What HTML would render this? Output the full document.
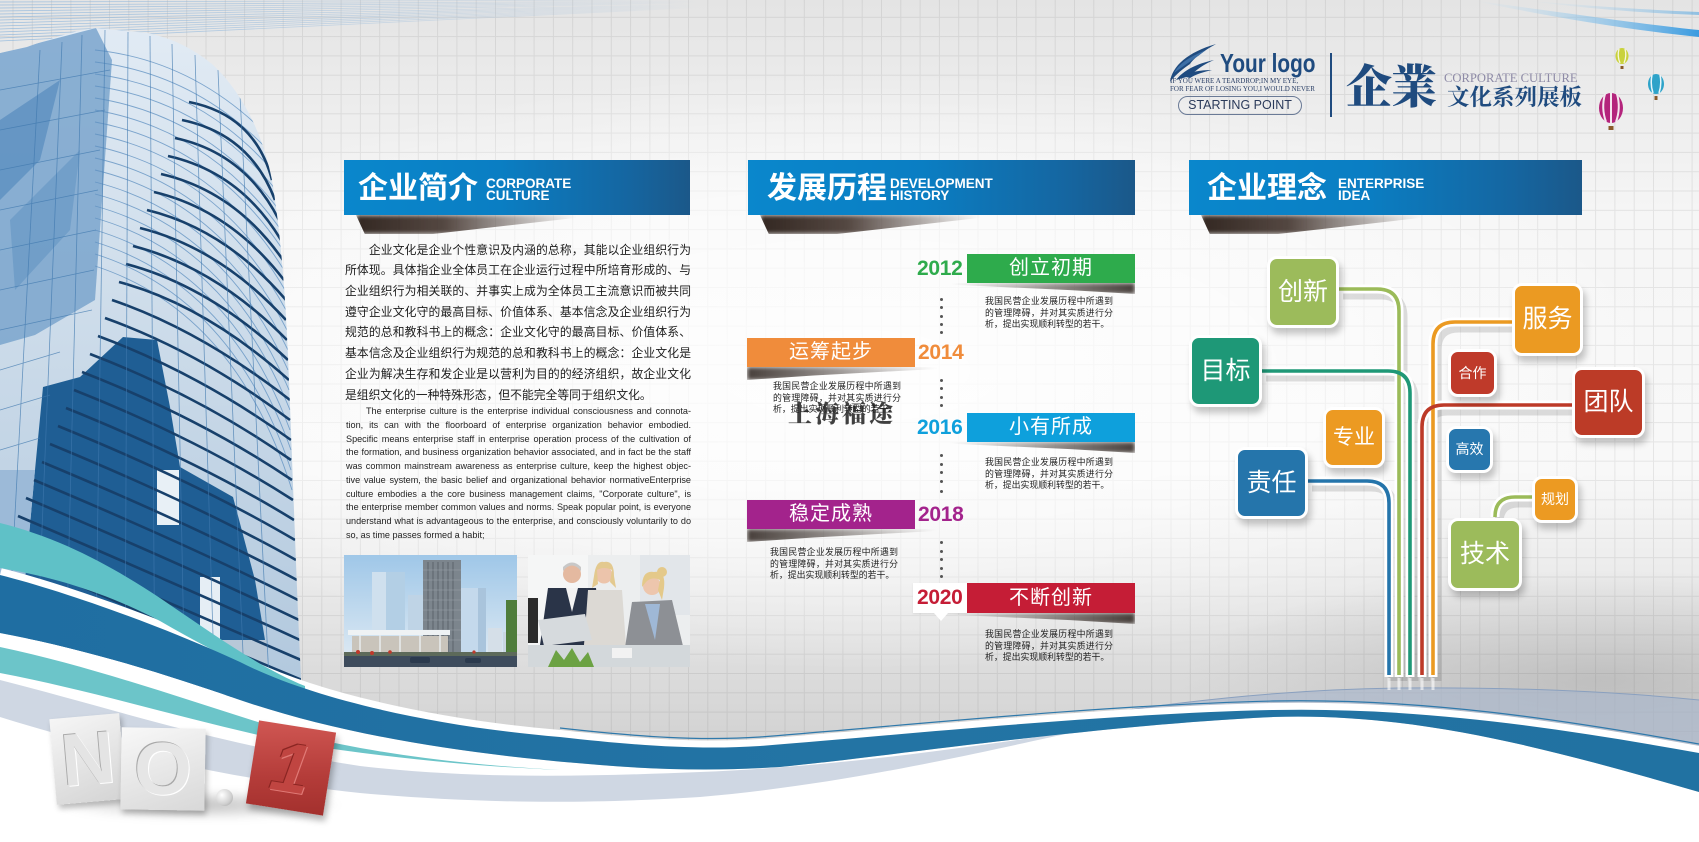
<!DOCTYPE html>
<html><head><meta charset="utf-8">
<style>
*{margin:0;padding:0;box-sizing:border-box}
html,body{width:1699px;height:842px;overflow:hidden;background:#fff}
#c{position:relative;width:1699px;height:842px;overflow:hidden;font-family:"Liberation Sans","Noto Sans CJK SC",sans-serif}
.a{position:absolute}
.bar{position:absolute;top:160px;height:55px;background:linear-gradient(90deg,#0a87cc 0%,#0a7ec3 45%,#1566a1 82%,#1b5889 100%)}
.bar .cn{position:absolute;left:14px;top:10px;font-size:30px;font-weight:bold;color:#fff;line-height:38px;white-space:nowrap}
.bar .en{position:absolute;top:18px;font-size:13.5px;font-weight:bold;color:#fff;line-height:12px;white-space:nowrap}
.hsh{position:absolute;top:215px;width:220px;height:19px;background:linear-gradient(90deg,rgba(40,28,22,.95) 0%,rgba(55,40,33,.85) 40%,rgba(90,80,75,0) 100%);clip-path:polygon(0 0,100% 0,100% 15%,35% 100%,4% 100%);filter:blur(2.5px)}
.cnp div{height:20.71px;line-height:20.71px;font-size:11.8px;color:#1c1c1c;text-align:justify;text-align-last:justify;overflow:hidden}
.enp div{height:13.78px;line-height:13.78px;font-size:9.1px;color:#222;text-align:justify;text-align-last:justify;overflow:hidden}
.tb{position:absolute;height:29px;color:#fff;font-size:20px;line-height:29px;text-align:center;letter-spacing:1px}
.yr{position:absolute;font-size:21px;font-weight:bold;line-height:24px;letter-spacing:-0.3px}
.ds{position:absolute;width:128px}
.ds div{height:11.7px;line-height:11.7px;font-size:8.9px;color:#222;text-align:justify;text-align-last:justify;overflow:hidden}
.shr{position:absolute;width:185px;height:11px;background:linear-gradient(90deg,rgba(50,40,35,0) 0%,rgba(50,40,35,.55) 60%,rgba(40,30,25,.85) 100%);clip-path:polygon(0 0,100% 0,100% 100%,65% 65%,0 15%);filter:blur(2px)}
.shl{position:absolute;width:190px;height:13px;background:linear-gradient(90deg,rgba(40,30,25,.85) 0%,rgba(50,40,35,.55) 40%,rgba(50,40,35,0) 100%);clip-path:polygon(0 0,100% 0,100% 15%,35% 65%,0 100%);filter:blur(2px)}
.dot{position:absolute;left:940px;width:3px;height:3px;border-radius:50%;background:#555}
.bx{position:absolute;border:3px solid #fff;border-radius:10px;color:#fff;text-align:center;box-shadow:3px 6px 7px rgba(0,0,0,.22);white-space:nowrap}
</style></head><body><div id="c">

<!-- background -->
<div class="a" style="left:0;top:0;width:1699px;height:842px;background:linear-gradient(180deg,#e4e4e4 0px,#ededed 110px,#f6f6f6 220px,#f8f8f8 470px,#ececec 570px,#dcdcdc 670px,#d0d0d0 760px)"></div>
<div class="a" style="left:0;top:0;width:1699px;height:842px;background:radial-gradient(ellipse 420px 110px at 1600px 680px,rgba(140,140,140,.35),rgba(140,140,140,0))"></div>
<svg class="a" style="left:0;top:0" width="1699" height="842">
<defs><pattern id="gr" x="12.5" y="16.8" width="19.3" height="19.3" patternUnits="userSpaceOnUse"><path d="M0,0.5 H19.3 M0.5,0 V19.3" stroke="rgba(90,90,90,0.12)" stroke-width="1" fill="none"/></pattern></defs>
<rect width="1699" height="842" fill="url(#gr)"/>
</svg>
<div class="a" style="left:0;top:0;width:1699px;height:842px;background:radial-gradient(ellipse 820px 300px at 860px 370px,rgba(255,255,255,.9),rgba(255,255,255,.5) 60%,rgba(255,255,255,0) 100%)"></div>

<!-- main graphics -->
<svg class="a" style="left:0;top:0" width="1699" height="842" viewBox="0 0 1699 842">
<defs>
<clipPath id="bc"><path d="M0,53 L27,47 C55,37 78,30 96,28 L147,33 C172,38 192,48 212,64 C240,90 262,130 272,180 C281,235 286,300 289,380 C293,480 297,600 302,700 L0,700 Z"/></clipPath>
<linearGradient id="bg" x1="0" y1="0" x2="0" y2="1"><stop offset="0" stop-color="#e3ecf5"/><stop offset=".45" stop-color="#cddcea"/><stop offset="1" stop-color="#b0c7dd"/></linearGradient>
<linearGradient id="tl" x1="0" y1="0" x2="700" y2="0" gradientUnits="userSpaceOnUse"><stop offset="0" stop-color="#8ab4dc" stop-opacity=".8"/><stop offset="1" stop-color="#8ab4dc" stop-opacity="0"/></linearGradient>
<linearGradient id="bl" x1="0" y1="0" x2="1" y2="0"><stop offset="0" stop-color="#1f6ea2"/><stop offset=".5" stop-color="#2374a4"/><stop offset="1" stop-color="#2172a2"/></linearGradient>
<linearGradient id="tr" x1="0" y1="0" x2="1" y2="0"><stop offset="0" stop-color="#bfe0f5" stop-opacity="0"/><stop offset="1" stop-color="#3a9be0"/></linearGradient>
</defs>
<!-- top left faint lines -->
<g stroke="url(#tl)" stroke-width="0.8" fill="none">
<path d="M0,2 L700,0"/><path d="M0,5 L700,1"/><path d="M0,8 L700,1.5"/><path d="M0,11 L700,2"/><path d="M0,14 L700,2.5"/><path d="M0,17 L700,3"/><path d="M0,20 L700,4"/><path d="M0,23 L700,4.5"/><path d="M0,26 L700,5"/><path d="M0,29 L700,5.5"/><path d="M0,32 L700,6"/><path d="M0,35 L700,6.5"/><path d="M0,38 L700,7"/><path d="M0,41 L700,7.5"/>
</g>
<!-- top right streak -->
<path d="M1470,0 C1560,12 1640,24 1699,30 L1699,37 C1630,30 1550,17 1470,0 Z" fill="url(#tr)"/>
<path d="M1520,0 C1590,6 1650,10 1699,12 L1699,15 C1640,13 1580,8 1520,0 Z" fill="url(#tr)" opacity=".5"/>

<!-- gray-blue region right above band -->
<path d="M980,738 C1100,710 1250,690 1400,688 C1530,687 1630,693 1699,700 L1699,790 L980,790 Z" fill="#a9b7cc" opacity=".65"/>
<path d="M980,738 C1100,710 1250,690 1400,688 C1530,687 1630,693 1699,700" stroke="#8aa0bf" stroke-width="1" fill="none"/>

<!-- building -->
<g clip-path="url(#bc)">
<rect x="0" y="0" width="310" height="710" fill="url(#bg)"/>
<path d="M0,53 L96,28 L112,60 L95,300 L35,335 L0,345 Z" fill="#7aa5cc" opacity=".85"/>
<path d="M0,120 L60,80 L40,160 L0,200 Z" fill="#4f86ba" opacity=".6"/>
<path d="M10,220 L80,150 L70,230 L15,290 Z" fill="#5b8fc0" opacity=".5"/>
<g stroke="#5d8fc0" stroke-width="0.9" fill="none" opacity=".75">
<path d="M95,50 Q190,60 262,130"/><path d="M95,62 Q195,74 268,150"/><path d="M95,74 Q200,88 272,170"/><path d="M95,86 Q205,102 276,190"/><path d="M95,98 Q208,116 279,210"/><path d="M95,110 Q210,130 281,230"/><path d="M95,122 Q212,144 283,250"/><path d="M95,134 Q214,158 284,270"/><path d="M95,146 Q216,172 285,290"/><path d="M95,158 Q218,186 286,310"/><path d="M95,170 Q220,200 287,330"/><path d="M95,182 Q222,214 288,350"/><path d="M95,194 Q224,228 288,370"/><path d="M95,206 Q226,242 289,390"/><path d="M95,218 Q228,256 290,410"/><path d="M95,230 Q230,270 290,430"/><path d="M95,242 Q232,284 291,450"/><path d="M95,254 Q234,298 291,470"/><path d="M95,266 Q236,312 292,490"/>
</g>
<path d="M43,387 L80,377 L123,337 L157,340 L170,407 L180,467 L233,497 L255,580 L265,640 L230,700 L30,700 L25,580 L35,470 Z" fill="#1f5e94"/>
<path d="M0,470 L35,470 L25,580 L0,590 Z" fill="#9cbad8"/>
<rect x="157" y="470" width="22" height="55" fill="#e8f0f6"/>
<rect x="200" y="577" width="20" height="96" fill="#e6eef5"/>
<rect x="217" y="640" width="50" height="55" fill="#b8c8d8"/>
<g stroke="#17406b" stroke-width="2.6" fill="none">
<path d="M189,102 Q255,115 272,180"/><path d="M182,120 Q250,134 275,200"/><path d="M175,138 Q245,153 279,220"/><path d="M168,156 Q240,172 281,240"/><path d="M161,174 Q235,191 283,260"/><path d="M154,192 Q230,210 284,280"/><path d="M147,210 Q225,229 286,300"/><path d="M140,228 Q220,248 286,320"/><path d="M133,246 Q215,267 287,340"/><path d="M126,264 Q210,286 288,360"/><path d="M119,282 Q205,305 289,380"/>
<path d="M112,300 Q200,330 290,400"/><path d="M105,318 Q200,352 290,420"/><path d="M98,336 Q200,374 291,440"/><path d="M90,354 Q200,396 291,460"/><path d="M82,372 Q200,418 292,480"/><path d="M74,390 Q200,440 293,500"/><path d="M66,408 Q200,462 294,520"/><path d="M58,426 Q200,484 295,540"/><path d="M50,444 Q200,506 296,560"/><path d="M42,462 Q200,528 297,580"/><path d="M34,480 Q200,550 298,600"/><path d="M26,498 Q200,572 299,620"/><path d="M18,516 Q200,594 300,640"/><path d="M10,534 Q200,616 301,660"/><path d="M2,552 Q200,638 302,680"/>
</g>
<g stroke="#3f78ae" stroke-width="0.8" fill="none" opacity=".7">
<path d="M5,700 L40,50"/><path d="M35,700 L62,42"/><path d="M65,700 L82,35"/><path d="M95,700 L105,30"/><path d="M125,700 L128,32"/><path d="M155,700 L150,36"/><path d="M185,700 L172,44"/><path d="M215,700 L195,55"/><path d="M245,700 L218,70"/><path d="M270,700 L240,95"/>
<path d="M0,90 L110,70"/><path d="M0,130 L105,110"/><path d="M0,170 L100,150"/><path d="M0,210 L98,190"/><path d="M0,250 L96,230"/><path d="M0,290 L94,270"/><path d="M0,330 L92,310"/><path d="M0,370 L60,352"/><path d="M0,410 L50,395"/><path d="M0,450 L40,438"/>
</g>
</g>

<!-- white below lower edge -->
<path d="M0,633 C80,648 160,672 240,700 C340,734 460,754 600,765 C660,770 720,771 780,767 C900,755 1100,725 1273,717 C1420,712 1560,752 1699,792 L1699,842 L0,842 Z" fill="#fff"/>
<!-- gray-blue band -->
<path d="M0,680 C100,705 220,745 360,766 C480,780 600,776 700,772 C850,766 980,745 1080,731 C980,752 850,784 700,797 C560,806 450,801 360,793 C220,778 100,748 0,717 Z" fill="#cfd7e3"/>
<!-- teal below -->
<path d="M0,647 C100,668 200,705 300,735 C380,755 470,765 560,770 C470,766 390,758 300,744 C200,724 100,692 0,673 Z" fill="#6cc5c9"/>
<!-- white stroke above blue -->
<path d="M0,575 C60,590 160,625 240,662 C310,698 430,726 560,737 C640,746 700,750 760,746 C900,735 1100,714 1273,710 C1420,707 1560,728 1699,753" stroke="#fff" stroke-width="14" fill="none"/>
<!-- teal wedge -->
<path d="M0,523 C60,538 110,565 160,598 C210,632 260,668 305,686 L305,689 C260,675 210,650 160,621 C110,595 60,578 0,568 Z" fill="#5fc1c7"/>
<!-- blue band -->
<path d="M0,575 C60,590 160,625 240,662 C310,698 430,726 560,737 C640,746 700,750 760,746 C900,735 1100,714 1273,710 C1420,707 1560,728 1699,753 L1699,792 C1560,752 1420,712 1273,717 C1100,725 900,755 780,767 C720,771 660,770 600,765 C460,754 340,734 240,700 C160,672 80,648 0,633 Z" fill="url(#bl)"/>
<path d="M560,728 C640,737 700,741 760,737 C900,726 1100,705 1273,701 C1420,698 1560,719 1699,744" stroke="#2f79ab" stroke-width="1.2" fill="none"/>

<!-- idea connectors -->
<g fill="none" stroke-linecap="butt">
<g stroke="rgba(0,0,0,.12)" stroke-width="9" transform="translate(4,6)">
<path d="M1339,289 H1377 Q1399,289 1399,311 V675"/><path d="M1262,371 H1388 Q1410,371 1410,393 V675"/><path d="M1512,322 H1455 Q1433,322 1433,344 V675"/><path d="M1572,405 H1444 Q1422,405 1422,427 V675"/><path d="M1308,481 H1367 Q1389,481 1389,503 V675"/><path d="M1532,497 H1515 Q1495,497 1495,517"/>
</g>
<g stroke="#fff" stroke-width="9">
<path d="M1339,289 H1377 Q1399,289 1399,311 V677"/><path d="M1262,371 H1388 Q1410,371 1410,393 V677"/><path d="M1512,322 H1455 Q1433,322 1433,344 V677"/><path d="M1572,405 H1444 Q1422,405 1422,427 V677"/><path d="M1308,481 H1367 Q1389,481 1389,503 V677"/><path d="M1532,497 H1515 Q1495,497 1495,517"/>
</g>
<path d="M1339,289 H1377 Q1399,289 1399,311 V675" stroke="#9bbb59" stroke-width="3.6"/>
<path d="M1262,371 H1388 Q1410,371 1410,393 V675" stroke="#1f9877" stroke-width="3.6"/>
<path d="M1512,322 H1455 Q1433,322 1433,344 V675" stroke="#eb9a22" stroke-width="3.6"/>
<path d="M1572,405 H1444 Q1422,405 1422,427 V675" stroke="#bd3a28" stroke-width="3.6"/>
<path d="M1308,481 H1367 Q1389,481 1389,503 V675" stroke="#2575ab" stroke-width="3.6"/>
<path d="M1532,497 H1515 Q1495,497 1495,517" stroke="#9bbb59" stroke-width="3.6"/>
<g stroke="rgba(255,255,255,.6)" stroke-width="3"><path d="M1389,678 V690"/><path d="M1399,678 V690"/><path d="M1410,678 V690"/><path d="M1422,678 V690"/><path d="M1433,678 V690"/></g>
</g>

<!-- balloons -->
<g>
<ellipse cx="1622" cy="56" rx="6.5" ry="8" fill="#c9d23c"/><path d="M1619,49 Q1617,56 1620,63 M1625,49 Q1627,56 1624,63" stroke="#f7f7e0" stroke-width="1.3" fill="none"/><rect x="1620.5" y="66" width="3" height="3" fill="#8a5a2a"/>
<ellipse cx="1656" cy="84" rx="8" ry="10" fill="#2ea3c9"/><path d="M1652,75 Q1650,84 1653,93 M1660,75 Q1662,84 1659,93" stroke="#e8f6fb" stroke-width="1.5" fill="none"/><rect x="1654.5" y="96" width="3" height="4" fill="#8a5a2a"/>
<ellipse cx="1611" cy="108" rx="12" ry="15" fill="#b4247c"/><path d="M1605,94 Q1601,108 1606,122 M1617,94 Q1621,108 1616,122 M1611,93 L1611,123" stroke="#f5e6ef" stroke-width="2" fill="none"/><rect x="1608.5" y="126" width="5" height="4" fill="#8a5a2a"/>
</g>

<!-- logo wing -->
<g fill="#1f4b7f">
<path d="M1170,82 C1172,66 1188,52 1216,44 C1202,52 1194,58 1190,64 C1184,68 1176,74 1170,82 Z"/>
<path d="M1176,80 C1184,70 1196,64 1214,60 C1204,64 1196,70 1190,76 Z"/>
<path d="M1182,76 C1190,72 1200,70 1212,70 C1204,72 1196,74 1190,78 Z"/>
<path d="M1174,73 C1180,62 1192,56 1206,50 C1196,58 1186,64 1174,73 Z" fill="#3d6fa6"/>
</g>
</svg>

<!-- logo text -->
<div class="a" style="left:1220px;top:48px;font-family:'Liberation Sans Narrow','Liberation Sans',sans-serif;font-weight:bold;font-size:26px;line-height:30px;color:#1f4b7f;transform:scaleX(.8);transform-origin:left top;white-space:nowrap">Your logo</div>
<div class="a" style="left:1170px;top:78px;font-family:'Liberation Serif',serif;font-size:7px;line-height:7.5px;color:#2a3f66;white-space:nowrap">IF YOU WERE A TEARDROP;IN MY EYE,<br>FOR FEAR OF LOSING YOU,I WOULD NEVER</div>
<div class="a" style="left:1178px;top:96px;width:124px;height:19px;border:1.3px solid #6a7a96;border-radius:10px;font-size:12.5px;line-height:16px;color:#2a3a5a;text-align:center;white-space:nowrap">STARTING POINT</div>
<div class="a" style="left:1330px;top:53px;width:2px;height:64px;background:#1f4b7f"></div>
<div class="a" style="left:1346px;top:54px;font-family:'Noto Serif CJK SC','Liberation Serif',serif;font-weight:900;font-size:46px;line-height:60px;color:#1f4b7f;letter-spacing:-1px;white-space:nowrap">企業</div>
<div class="a" style="left:1444px;top:71px;font-family:'Liberation Serif',serif;font-size:12.6px;line-height:14px;color:#8d8aa6;white-space:nowrap">CORPORATE CULTURE</div>
<div class="a" style="left:1447px;top:84px;font-family:'Liberation Serif','Noto Serif CJK SC',serif;font-weight:bold;font-size:22.5px;line-height:28px;color:#1f4b7f;white-space:nowrap">文化系列展板</div>

<!-- headers -->
<div class="hsh" style="left:356px"></div>
<div class="hsh" style="left:760px"></div>
<div class="hsh" style="left:1201px"></div>
<div class="bar" style="left:344px;width:346px"><div class="cn">企业简介</div><div class="en" style="left:142px">CORPORATE<br>CULTURE</div></div>
<div class="bar" style="left:748px;width:387px"><div class="cn" style="left:19px">发展历程</div><div class="en" style="left:142px">DEVELOPMENT<br>HISTORY</div></div>
<div class="bar" style="left:1189px;width:393px"><div class="cn" style="left:18px">企业理念</div><div class="en" style="left:149px">ENTERPRISE<br>IDEA</div></div>

<!-- chinese paragraph -->
<div class="a cnp" style="left:345px;top:239.6px;width:346px">
<div>　　企业文化是企业个性意识及内涵的总称，其能以企业组织行为</div>
<div>所体现。具体指企业全体员工在企业运行过程中所培育形成的、与</div>
<div>企业组织行为相关联的、并事实上成为全体员工主流意识而被共同</div>
<div>遵守企业文化守的最高目标、价值体系、基本信念及企业组织行为</div>
<div>规范的总和教科书上的概念：企业文化守的最高目标、价值体系、</div>
<div>基本信念及企业组织行为规范的总和教科书上的概念：企业文化是</div>
<div>企业为解决生存和发企业是以营利为目的的经济组织，故企业文化</div>
<div style="text-align-last:left">是组织文化的一种特殊形态，但不能完全等同于组织文化。</div>
</div>

<!-- english paragraph -->
<div class="a enp" style="left:346px;top:405px;width:345px">
<div style="padding-left:20px">The enterprise culture is the enterprise individual consciousness and connota-</div>
<div>tion, its can with the floorboard of enterprise organization behavior embodied.</div>
<div>Specific means enterprise staff in enterprise operation process of the cultivation of</div>
<div>the formation, and business organization behavior associated, and in fact be the staff</div>
<div>was common mainstream awareness as enterprise culture, keep the highest objec-</div>
<div>tive value system, the basic belief and organizational behavior normativeEnterprise</div>
<div>culture embodies a the core business management claims, "Corporate culture", is</div>
<div>the enterprise member common values and norms. Speak popular point, is everyone</div>
<div>understand what is advantageous to the enterprise, and consciously voluntarily to do</div>
<div style="text-align-last:left">so, as time passes formed a habit;</div>
</div>

<!-- photo 1 -->
<svg class="a" style="left:344px;top:555px" width="173" height="112" viewBox="344 555 173 112">
<defs><linearGradient id="sky" x1="0" y1="0" x2="0" y2="1"><stop offset="0" stop-color="#9fc7e8"/><stop offset="1" stop-color="#e2ecf4"/></linearGradient></defs>
<rect x="344" y="555" width="173" height="112" fill="url(#sky)"/>
<rect x="372" y="572" width="33" height="62" fill="#b3cfe5"/><rect x="372" y="572" width="14" height="62" fill="#cfe0ee"/>
<rect x="408" y="595" width="16" height="40" fill="#bfd4e6"/>
<rect x="460" y="588" width="26" height="70" fill="#c4d9ec"/><rect x="478" y="588" width="8" height="70" fill="#a9c4dc"/>
<rect x="488" y="628" width="14" height="30" fill="#d5dfe8"/><rect x="503" y="632" width="10" height="26" fill="#c9d6e2"/>
<rect x="423" y="560" width="38" height="98" fill="#7c858d"/>
<g stroke="#5b646c" stroke-width="1"><path d="M428,562 V656 M433,562 V656 M438,562 V656 M443,562 V656 M448,562 V656 M453,562 V656"/></g>
<g stroke="#9aa2aa" stroke-width=".6"><path d="M423,570 H461 M423,580 H461 M423,590 H461 M423,600 H461 M423,610 H461 M423,620 H461 M423,630 H461 M423,640 H461"/></g>
<rect x="352" y="636" width="96" height="20" fill="#c9c4bb"/>
<rect x="348" y="630" width="102" height="5" fill="#eef2f4"/>
<g stroke="#e8ecee" stroke-width="1.5"><path d="M360,635 V656 M380,635 V656 M400,635 V656 M420,635 V656 M440,635 V656"/></g>
<rect x="506" y="600" width="11" height="58" fill="#4f7d3b"/>
<rect x="344" y="655" width="173" height="12" fill="#3e4c5d"/>
<rect x="344" y="652" width="173" height="4" fill="#5d6a5a"/>
<g fill="#c0392b"><circle cx="358" cy="652" r="2"/><circle cx="372" cy="653" r="2"/><circle cx="390" cy="652" r="1.8"/><circle cx="474" cy="652" r="1.6"/></g>
<rect x="410" y="657" width="20" height="6" rx="2" fill="#2b3a4e"/><rect x="465" y="658" width="16" height="5" rx="2" fill="#2b3a4e"/>
</svg>

<!-- photo 2 -->
<svg class="a" style="left:528px;top:555px" width="162" height="112" viewBox="528 555 162 112">
<rect x="528" y="555" width="162" height="112" fill="#eceeef"/>
<rect x="528" y="555" width="60" height="112" fill="#f5f6f6"/>
<rect x="640" y="555" width="50" height="60" fill="#e2e6ea"/>
<rect x="528" y="598" width="10" height="45" fill="#2c2c2c"/>
<path d="M548,588 L596,588 L602,645 L540,645 Z" fill="#2a3448"/>
<path d="M566,588 L578,588 L572,612 Z" fill="#f2f2f2"/>
<circle cx="572" cy="574" r="9" fill="#e4b9a0"/><path d="M563,571 Q572,560 581,571 L581,567 Q572,558 563,567 Z" fill="#c8c8c8"/>
<path d="M588,590 L622,590 L626,645 L584,645 Z" fill="#dcd9d4"/>
<circle cx="604" cy="575" r="8.5" fill="#ecc4ab"/><path d="M594,576 Q596,560 604,562 Q614,560 614,576 L616,588 L610,582 L612,570 Q604,566 597,570 L598,584 L592,588 Z" fill="#e3c98f"/>
<path d="M632,602 L672,600 L688,667 L622,667 Z" fill="#8d9095"/>
<path d="M645,604 L660,604 L655,640 Z" fill="#9fb8d6"/>
<circle cx="652" cy="586" r="9" fill="#edc6ad"/><path d="M642,587 Q642,570 654,572 Q666,570 664,588 L662,600 L658,590 L660,580 Q652,576 646,582 Z" fill="#e4c98a"/><circle cx="662" cy="572" r="5" fill="#e4c98a"/>
<path d="M538,620 L585,614 L592,640 L544,646 Z" fill="#d6dadd"/>
<rect x="528" y="645" width="162" height="22" fill="#d3d8db"/>
<path d="M548,667 L556,650 L564,660 L572,648 L580,662 L588,652 L594,667 Z" fill="#6ca243"/>
<rect x="612" y="648" width="20" height="10" fill="#f2f2f2"/>
</svg>

<!-- timeline -->
<div class="shr" style="left:950px;top:283px"></div>
<div class="a" style="left:967px;top:254px;width:168px;height:29px;background:#2eab4c"></div>
<div class="tb" style="left:967px;top:254px;width:168px">创立初期</div>
<div class="yr" style="left:917px;top:257px;color:#2eab4c">2012</div>
<div class="dot" style="top:298px"></div><div class="dot" style="top:306px"></div><div class="dot" style="top:315px"></div><div class="dot" style="top:323px"></div><div class="dot" style="top:331px"></div>
<div class="ds" style="left:985px;top:296px"><div>我国民营企业发展历程中所遇到</div><div>的管理障碍，并对其实质进行分</div><div style="text-align-last:left">析，提出实现顺利转型的若干。</div></div>

<div class="shl" style="left:747px;top:367px"></div>
<div class="a" style="left:747px;top:338px;width:168px;height:29px;background:#f08c3b"></div>
<div class="tb" style="left:747px;top:338px;width:168px">运筹起步</div>
<div class="yr" style="left:918px;top:341px;color:#f08c3b">2014</div>
<div class="ds" style="left:773px;top:381px"><div>我国民营企业发展历程中所遇到</div><div>的管理障碍，并对其实质进行分</div><div style="text-align-last:left">析，提出实现顺利转型的若干。</div></div>
<div class="a" style="left:788px;top:398px;font-family:'Noto Serif CJK SC','Liberation Serif',serif;font-weight:900;font-size:24px;line-height:28px;letter-spacing:3px;color:rgba(30,30,30,.85);white-space:nowrap">上海福途</div>
<div class="dot" style="top:379px"></div><div class="dot" style="top:387px"></div><div class="dot" style="top:396px"></div><div class="dot" style="top:404px"></div>

<div class="shr" style="left:950px;top:442px"></div>
<div class="a" style="left:967px;top:413px;width:168px;height:29px;background:#0ea0dc"></div>
<div class="tb" style="left:967px;top:413px;width:168px">小有所成</div>
<div class="yr" style="left:917px;top:416px;color:#0ea0dc">2016</div>
<div class="dot" style="top:454px"></div><div class="dot" style="top:463px"></div><div class="dot" style="top:471px"></div><div class="dot" style="top:480px"></div><div class="dot" style="top:490px"></div>
<div class="ds" style="left:985px;top:457px"><div>我国民营企业发展历程中所遇到</div><div>的管理障碍，并对其实质进行分</div><div style="text-align-last:left">析，提出实现顺利转型的若干。</div></div>

<div class="shl" style="left:747px;top:529px"></div>
<div class="a" style="left:747px;top:500px;width:168px;height:29px;background:#a3238c"></div>
<div class="tb" style="left:747px;top:500px;width:168px">稳定成熟</div>
<div class="yr" style="left:918px;top:503px;color:#a3238c">2018</div>
<div class="ds" style="left:770px;top:547px"><div>我国民营企业发展历程中所遇到</div><div>的管理障碍，并对其实质进行分</div><div style="text-align-last:left">析，提出实现顺利转型的若干。</div></div>
<div class="dot" style="top:541px"></div><div class="dot" style="top:550px"></div><div class="dot" style="top:558px"></div><div class="dot" style="top:567px"></div><div class="dot" style="top:575px"></div>

<div class="shr" style="left:950px;top:613px"></div>
<div class="a" style="left:913px;top:583px;width:54px;height:30px;background:#fff;box-shadow:0 1px 2px rgba(0,0,0,.08)"></div>
<div class="a" style="left:934px;top:613px;width:0;height:0;border-left:7px solid transparent;border-right:7px solid transparent;border-top:8px solid #fff"></div>
<div class="a" style="left:967px;top:583px;width:168px;height:30px;background:#c51d36"></div>
<div class="tb" style="left:967px;top:583.5px;width:168px">不断创新</div>
<div class="yr" style="left:917px;top:586px;color:#c51d36">2020</div>
<div class="ds" style="left:985px;top:629px"><div>我国民营企业发展历程中所遇到</div><div>的管理障碍，并对其实质进行分</div><div style="text-align-last:left">析，提出实现顺利转型的若干。</div></div>

<!-- idea boxes -->
<div class="bx" style="left:1267px;top:256px;width:72px;height:72px;background:#9cbb5b;font-size:25px;line-height:66px">创新</div>
<div class="bx" style="left:1189px;top:335px;width:73px;height:72px;background:#1e9877;font-size:25px;line-height:66px">目标</div>
<div class="bx" style="left:1512px;top:283px;width:71px;height:73px;background:#eb9a22;font-size:25px;line-height:67px">服务</div>
<div class="bx" style="left:1448px;top:349px;width:49px;height:48px;background:#bf3a2a;font-size:14px;line-height:42px">合作</div>
<div class="bx" style="left:1572px;top:367px;width:73px;height:71px;background:#bc3b27;font-size:25px;line-height:65px">团队</div>
<div class="bx" style="left:1323px;top:407px;width:62px;height:61px;background:#ec9a22;font-size:21px;line-height:55px">专业</div>
<div class="bx" style="left:1446px;top:426px;width:47px;height:47px;background:#2777ae;font-size:14px;line-height:41px">高效</div>
<div class="bx" style="left:1235px;top:447px;width:73px;height:72px;background:#2575ab;font-size:25px;line-height:66px">责任</div>
<div class="bx" style="left:1532px;top:476px;width:46px;height:47px;background:#ec9a22;font-size:14px;line-height:41px">规划</div>
<div class="bx" style="left:1448px;top:518px;width:74px;height:73px;background:#9cbb5b;font-size:25px;line-height:67px">技术</div>

<!-- NO.1 -->
<div class="a" style="left:55px;top:790px;width:290px;height:30px;border-radius:50%;background:radial-gradient(ellipse at center,rgba(0,0,0,.25),rgba(0,0,0,0) 70%);filter:blur(4px)"></div>
<div class="a" style="left:53px;top:716px;width:70px;height:86px;background:linear-gradient(160deg,#f6f6f6,#d4d4d4);transform:rotate(-5deg);box-shadow:2px 4px 6px rgba(0,0,0,.25);font-size:74px;font-weight:bold;line-height:86px;text-align:center;color:#e4e4e4;text-shadow:-1px -1px 0 #a8a8a8,1px 1px 0 #fff">N</div>
<div class="a" style="left:121px;top:728px;width:84px;height:82px;background:linear-gradient(160deg,#f8f8f8,#d8d8d8);transform:rotate(1deg);box-shadow:2px 4px 6px rgba(0,0,0,.25);font-size:74px;font-weight:bold;line-height:82px;text-align:center;color:#e6e6e6;text-shadow:-1px -1px 0 #a8a8a8,1px 1px 0 #fff">O</div>
<div class="a" style="left:216px;top:789px;width:17px;height:17px;border-radius:50%;background:radial-gradient(circle at 35% 35%,#fff,#d0d0d0 60%,#9a9a9a)"></div>
<div class="a" style="left:252px;top:726px;width:78px;height:84px;background:linear-gradient(170deg,#d05753,#b43c39 60%,#a3302d);transform:rotate(9deg);box-shadow:3px 5px 7px rgba(0,0,0,.3);font-size:70px;font-weight:bold;font-style:italic;line-height:84px;text-align:center;color:#c04541;text-shadow:-1px -1px 0 #8a2522,1px 1px 0 #e07a76">1</div>

</div></body></html>
